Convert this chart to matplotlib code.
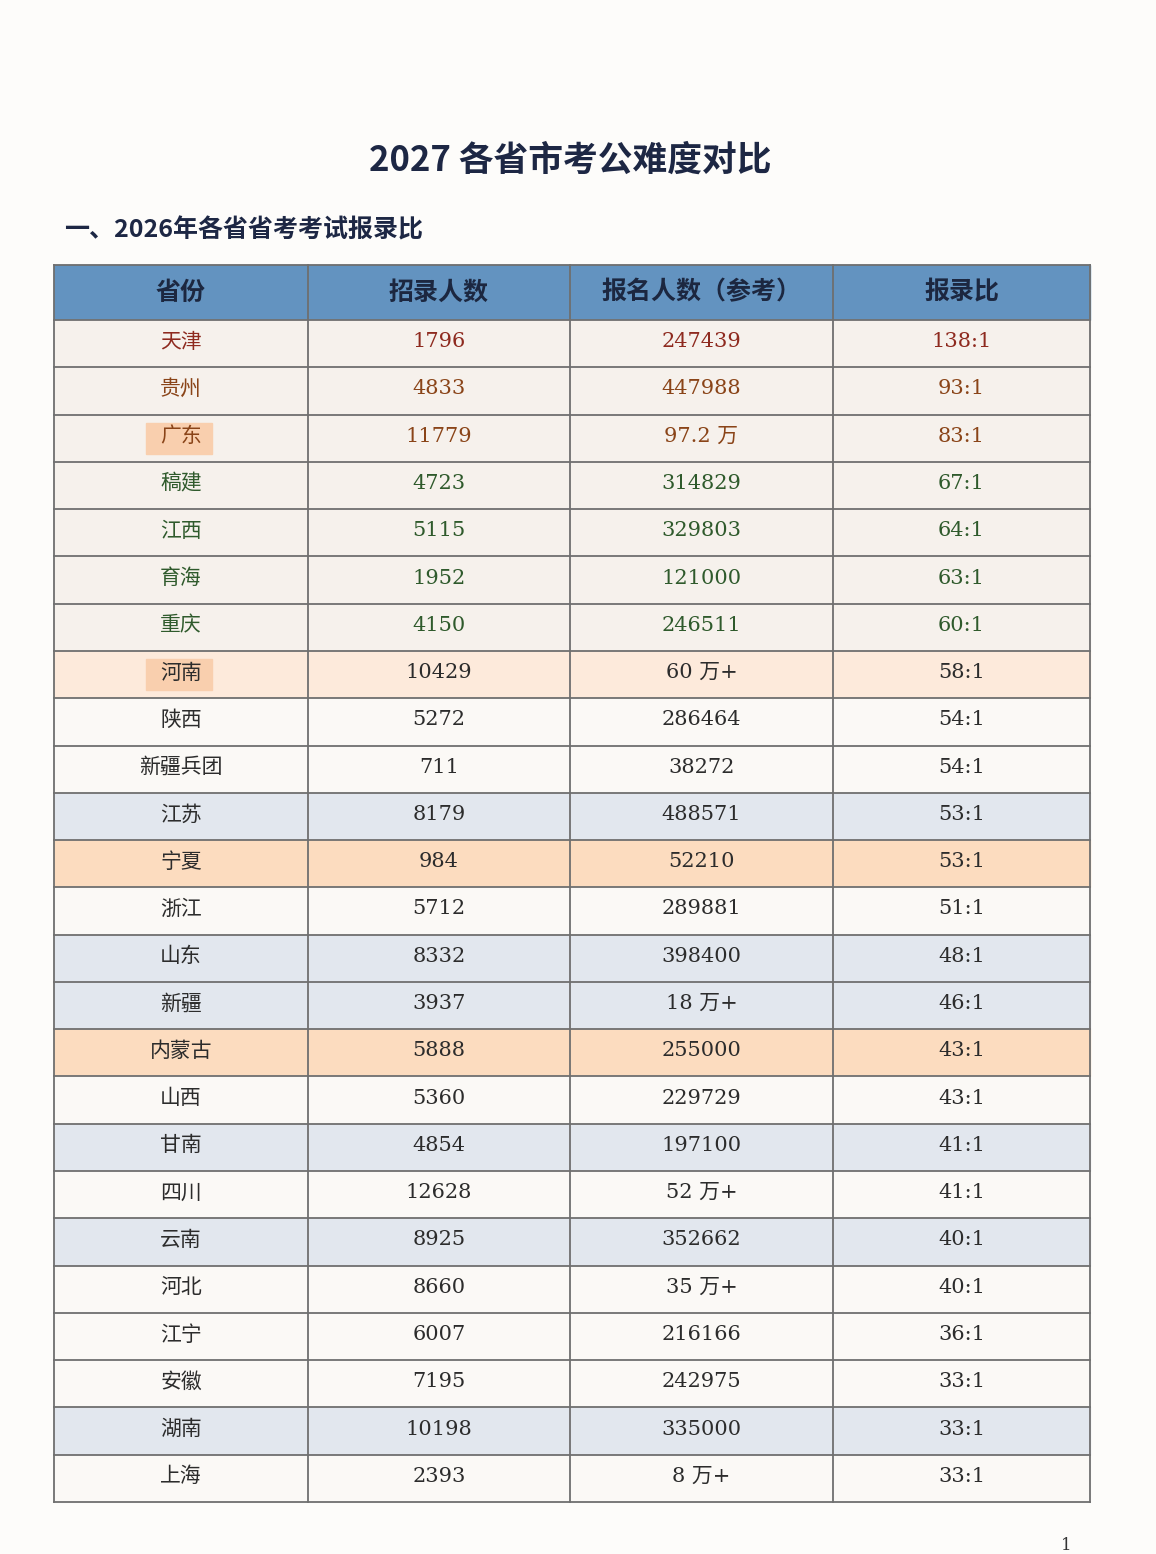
import matplotlib.pyplot as plt
from matplotlib.patches import Rectangle

plt.rcParams['font.family'] = ['Noto Sans CJK SC', 'DejaVu Sans']

title = '2027 各省市考公难度对比'
subtitle = '一、2026年各省省考考试报录比'
headers = ['省份', '招录人数', '报名人数（参考）', '报录比']
provinces = ['天津', '贵州', '广东', '稿建', '江西', '育海', '重庆', '河南', '陕西', '新疆兵团',
             '江苏', '宁夏', '浙江', '山东', '新疆', '内蒙古', '山西', '甘南', '四川', '云南',
             '河北', '江宁', '安徽', '湖南', '上海']
recruit = ['1796', '4833', '11779', '4723', '5115', '1952', '4150', '10429', '5272', '711',
           '8179', '984', '5712', '8332', '3937', '5888', '5360', '4854', '12628', '8925',
           '8660', '6007', '7195', '10198', '2393']
applicants = ['247439', '447988', '97.2 万', '314829', '329803', '121000', '246511', '60 万+', '286464', '38272',
              '488571', '52210', '289881', '398400', '18 万+', '255000', '229729', '197100', '52 万+', '352662',
              '35 万+', '216166', '242975', '335000', '8 万+']
ratio = ['138:1', '93:1', '83:1', '67:1', '64:1', '63:1', '60:1', '58:1', '54:1', '54:1',
         '53:1', '53:1', '51:1', '48:1', '46:1', '43:1', '43:1', '41:1', '41:1', '40:1',
         '40:1', '36:1', '33:1', '33:1', '33:1']

# row styles: background and text colour
blue_rows = ['江苏', '山东', '新疆', '甘南', '云南', '湖南']
orange_rows = ['宁夏', '内蒙古', '河南']
text_col = {'天津': '#8e2a1f', '贵州': '#8a4418', '广东': '#8a4418'}
for p in ['稿建', '江西', '育海', '重庆']:
    text_col[p] = '#2f5a2c'

W, H = 1156, 1554
fig = plt.figure(figsize=(W / 100, H / 100), dpi=100)
ax = fig.add_axes([0, 0, 1, 1])
ax.set_xlim(0, W)
ax.set_ylim(H, 0)
ax.axis('off')
fig.patch.set_facecolor('#fdfcfa')

ax.text(570, 160, title, ha='center', va='center', fontsize=25, fontweight='bold', color='#1d2744')
ax.text(64, 230, subtitle, ha='left', va='center', fontsize=18, fontweight='bold', color='#1d2744')

cols = [54, 308, 570, 833, 1090]
top, hdr_bot, bot = 265, 320, 1502
rh = (bot - hdr_bot) / len(provinces)

ax.add_patch(Rectangle((cols[0], top), cols[-1] - cols[0], hdr_bot - top, color='#6393c0', zorder=1))
for i, h in enumerate(headers):
    ax.text((cols[i] + cols[i + 1]) / 2, (top + hdr_bot) / 2, h, ha='center', va='center',
            fontsize=18, fontweight='bold', color='#1c2740', zorder=3)

for r, p in enumerate(provinces):
    y0 = hdr_bot + r * rh
    if p in blue_rows:
        bg = '#e2e7ee'
    elif p in ('宁夏', '内蒙古'):
        bg = '#fcdcbf'
    elif p == '河南':
        bg = '#fdeadb'
    elif r < 8:
        bg = '#f6f1ec'
    else:
        bg = '#fbf9f6'
    ax.add_patch(Rectangle((cols[0], y0), cols[-1] - cols[0], rh, color=bg, zorder=1))
    if p in ('广东', '河南'):
        ax.add_patch(Rectangle((146, y0 + 8), 66, rh - 16, color='#f9cfae', zorder=2))
    c = text_col.get(p, '#2c2c2c')
    vals = [p, recruit[r], applicants[r], ratio[r]]
    for i, v in enumerate(vals):
        ax.text((cols[i] + cols[i + 1]) / 2, y0 + rh / 2 - 2, v, ha='center', va='center',
                fontsize=15, color=c, zorder=3,
                family=['Noto Sans CJK SC', 'DejaVu Sans'] if i == 0 else ['DejaVu Serif', 'Noto Sans CJK SC'])

# grid lines
for r in range(len(provinces) + 1):
    y = hdr_bot + r * rh
    ax.plot([cols[0], cols[-1]], [y, y], color='#6f6f6f', lw=1.3, zorder=4)
ax.plot([cols[0], cols[-1]], [top, top], color='#6f6f6f', lw=1.3, zorder=4)
for x in cols:
    ax.plot([x, x], [top, bot], color='#6f6f6f', lw=1.3, zorder=4)

ax.text(1066, 1545, '1', ha='center', va='center', fontsize=12, color='#333333', family='DejaVu Serif')

fig.savefig('out.png', dpi=100, facecolor=fig.get_facecolor())
